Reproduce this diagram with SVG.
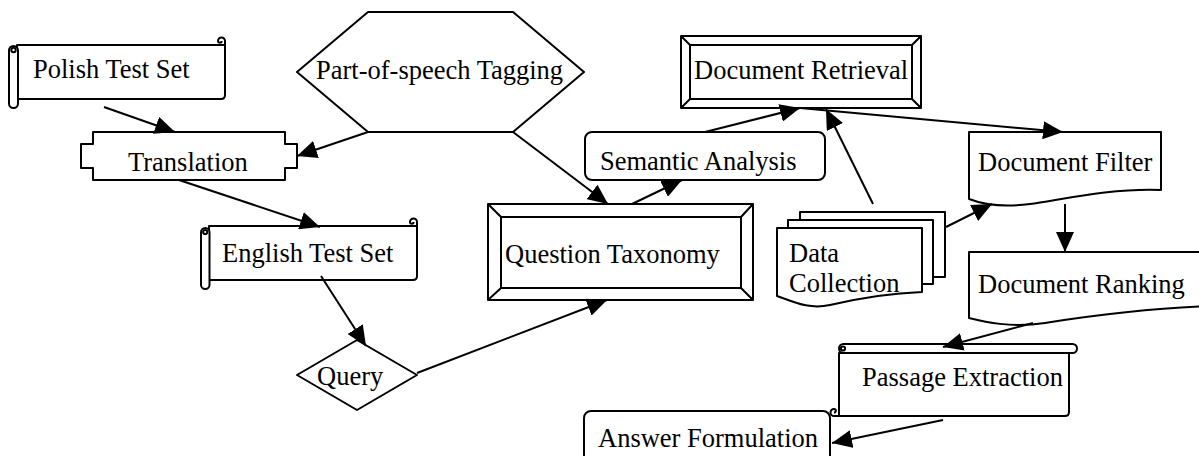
<svg xmlns="http://www.w3.org/2000/svg" width="1199" height="456" viewBox="0 0 1199 456">
<style>
.s{fill:#fff;stroke:#000;stroke-width:2;stroke-linejoin:round}
.n{fill:none;stroke:#000;stroke-width:2}
.t{font-family:"Liberation Serif","Times New Roman",serif;font-size:26.5px;fill:#000}
.c line{stroke:#000;stroke-width:2;marker-end:url(#ah)}
</style>
<defs>
<marker id="ah" viewBox="0 0 20 18" refX="20" refY="9" markerWidth="20" markerHeight="18" markerUnits="userSpaceOnUse" orient="auto">
<path d="M0,0 L20,9 L0,18 Z" fill="#000"/>
</marker>
</defs>
<rect width="1199" height="456" fill="#fff"/>

<g id="polish">
<path class="s" d="M17,45 H225 V95 Q225,99 221,99 H17 Z"/>
<path class="n" d="M225,45 V41 A3.5,3.5 0 1 0 218,41 A1.8,1.8 0 0 0 221.6,41"/>
<rect class="s" x="9" y="46" width="9" height="62" rx="4.5"/>
<circle class="n" cx="13.5" cy="50" r="2.2"/>
<text class="t" x="33" y="78">Polish Test Set</text>
</g>

<g id="translation">
<path class="s" d="M93,132 H285 V144 H297 V168 H285 V180 H93 V168 H81 V144 H93 Z"/>
<text class="t" x="128" y="171">Translation</text>
</g>

<g id="pos">
<path class="s" d="M368,12 H513 L584,72 L513,132 H368 L297,72 Z"/>
<text class="t" x="316" y="79">Part-of-speech Tagging</text>
</g>

<g id="retrieval">
<rect class="s" x="681" y="36" width="240" height="72"/>
<rect class="s" x="690" y="45" width="222" height="54"/>
<path class="n" d="M681,36 L690,45 M921,36 L912,45 M681,108 L690,99 M921,108 L912,99"/>
<text class="t" x="694" y="79">Document Retrieval</text>
</g>

<g id="semantic">
<rect class="s" x="585" y="132" width="240" height="48" rx="7"/>
<text class="t" x="600" y="170">Semantic Analysis</text>
</g>

<g id="taxonomy">
<rect class="s" x="488" y="204" width="265" height="96"/>
<rect class="s" x="501" y="217" width="240" height="71"/>
<path class="n" d="M488,204 L501,217 M753,204 L741,217 M488,300 L501,288 M753,300 L741,288"/>
<text class="t" x="505" y="263">Question Taxonomy</text>
</g>

<g id="english">
<path class="s" d="M209,226 H417 V276 Q417,280 413,280 H209 Z"/>
<path class="n" d="M417,226 V222 A3.5,3.5 0 1 0 410,222 A1.8,1.8 0 0 0 413.6,222"/>
<rect class="s" x="201" y="228" width="8.5" height="61" rx="4.2"/>
<circle class="n" cx="205.2" cy="232" r="2.1"/>
<text class="t" x="222" y="262">English Test Set</text>
</g>

<g id="query">
<path class="s" d="M357,340 L417,375 L357,410 L297,375 Z"/>
<text class="t" x="317" y="385">Query</text>
</g>

<g id="datacollection">
<rect class="s" x="800" y="212" width="145" height="65"/>
<rect class="s" x="788" y="220" width="145" height="64"/>
<path class="s" d="M777,228 H922 V292 C895,293 860,298 830,305 C808,310 792,301 777,296 Z"/>
<text class="t" x="789" y="262">Data</text>
<text class="t" x="789" y="292">Collection</text>
</g>

<g id="filter">
<path class="s" d="M969,132 H1161 V190 C1110,188 1060,200 1030,204 C1000,208 982,204 969,199 Z"/>
<text class="t" x="978" y="171">Document Filter</text>
</g>

<g id="ranking">
<path class="s" d="M1215,252 H969 V318 C985,322 1010,328 1045,323 C1090,316 1150,308 1215,306"/>
<text class="t" x="978" y="293">Document Ranking</text>
</g>

<g id="passage">
<path class="s" d="M839,353 H1069 V412 Q1069,416 1065,416 H839 Z"/>
<path class="n" d="M839,416 H834 A3.5,3.5 0 0 1 834,409 A1.8,1.8 0 0 1 834,412.6"/>
<rect class="s" x="839" y="344" width="238" height="9" rx="4.5"/>
<circle class="n" cx="843" cy="348.5" r="2.1"/>
<text class="t" x="862" y="386">Passage Extraction</text>
</g>

<g id="answer">
<rect class="s" x="584" y="411" width="246" height="60" rx="7"/>
<text class="t" x="598" y="447">Answer Formulation</text>
</g>

<g id="connectors" class="c">
<line x1="104" y1="107" x2="175" y2="132"/>
<line x1="368" y1="132" x2="297" y2="156"/>
<line x1="513" y1="132" x2="608" y2="204"/>
<line x1="179" y1="180" x2="320" y2="227"/>
<line x1="321" y1="276" x2="366" y2="346"/>
<line x1="417" y1="373" x2="607" y2="300"/>
<line x1="632" y1="204" x2="682" y2="180"/>
<line x1="705" y1="132" x2="800" y2="108"/>
<line x1="873" y1="204" x2="826" y2="109"/>
<line x1="800" y1="108" x2="1063" y2="132"/>
<line x1="946" y1="227" x2="992" y2="204"/>
<line x1="1065" y1="204" x2="1065" y2="252"/>
<line x1="1033" y1="323" x2="943" y2="347"/>
<line x1="943" y1="420" x2="832" y2="443"/>
</g>
</svg>
